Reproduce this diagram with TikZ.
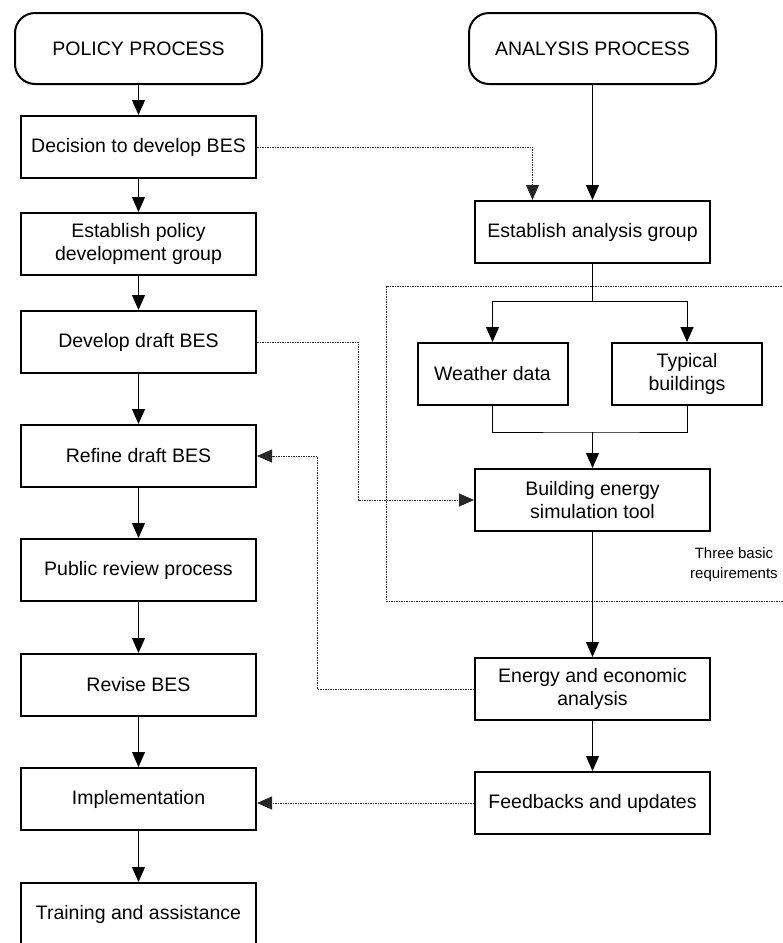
\documentclass[tikz,border=0pt]{standalone}
\usepackage{fontspec}
\setmainfont{Liberation Sans}
\usetikzlibrary{arrows.meta,positioning,calc}

\begin{document}
\begin{tikzpicture}[x=1pt, y=1pt, node distance=50pt, >={Triangle[length=15pt,width=13pt]},
    every text node part/.style={align=center},
    box/.style={draw, rectangle, line width=2pt, minimum width=235pt, minimum height=62pt, inner sep=2pt, font=\fontsize{19.5}{23}\selectfont},
    smallbox/.style={box, minimum width=150pt},
    start/.style={box, rounded corners=20pt, minimum width=247pt, minimum height=71pt},
    link/.style={->, line width=1pt},
    wire/.style={line width=1pt},
    hint/.style={line width=0.9pt, black!85, dash pattern=on 1.5pt off 1pt},
    note/.style={align=left, inner sep=0pt, font=\fontsize{15}{20}\selectfont}]
    \useasboundingbox (0,0) rectangle (783,-943);

    % policy side
    \node [start] (policy) at (138.5,-48.5) {POLICY PROCESS};
    \node [box, below=30pt of policy] (decision) {Decision to develop BES};
    \node [box, below=33pt of decision] (estpolicy) {Establish policy\\development group};
    \node [box, below=34pt of estpolicy] (develop) {Develop draft BES};
    \node [box, below=50pt of develop] (refine) {Refine draft BES};
    \node [box, below=50pt of refine] (public) {Public review process};
    \node [box, below=51pt of public] (revise) {Revise BES};
    \node [box, below=50pt of revise] (implement) {Implementation};
    \node [box, below=51pt of implement] (training) {Training and assistance};

    % analysis side
    \node [start, right=205pt of policy] (analysis) {ANALYSIS PROCESS};
    \node [box, below=115pt of analysis] (estanalysis) {Establish analysis group};
    \node [smallbox, below=78pt of estanalysis, xshift=-100pt] (weather) {Weather data};
    \node [smallbox, below=78pt of estanalysis, xshift=94.5pt] (typical) {Typical\\buildings};
    \node [box, below=62pt of weather, xshift=100pt] (best) {Building energy\\simulation tool};
    \node [box, below=125pt of best] (energy) {Energy and economic\\analysis};
    \node [box, below=50pt of energy] (feedback) {Feedbacks and updates};
    \node [note, anchor=north west] (reqs) at (690,-547) {Three basic\\requirements};

    % frame round the three requirements
    \draw [hint] (386,-286) rectangle (800,-601);

    \draw [link] (policy) -- (decision);
    \draw [link] (decision) -- (estpolicy);
    \draw [link] (estpolicy) -- (develop);
    \draw [link] (develop) -- (refine);
    \draw [link] (refine) -- (public);
    \draw [link] (public) -- (revise);
    \draw [link] (revise) -- (implement);
    \draw [link] (implement) -- (training);

    \draw [link] (analysis) -- (estanalysis);
    \draw [link] (estanalysis.south) -- ++(0,-37) coordinate (split) -| (weather);
    \draw [link] (split) -| (typical);
    \coordinate (join) at ([yshift=-26pt]weather.south -| estanalysis.south);
    \draw [wire] (weather.south) |- (join) -| (typical.south);
    \draw [link] (join) -- (best);
    \draw [link] (best) -- (energy);
    \draw [link] (energy) -- (feedback);

    \draw [hint, ->] (decision.east) -| ([xshift=-60pt]estanalysis.north);
    \draw [hint, ->] (develop.east) -- ++(101,0) |- (best.west);
    \draw [hint, ->] (energy.west) -- ++(-157,0) |- (refine.east);
    \draw [hint, ->] (feedback.west) -- (feedback.west -| implement.east);
\end{tikzpicture}
\end{document}
